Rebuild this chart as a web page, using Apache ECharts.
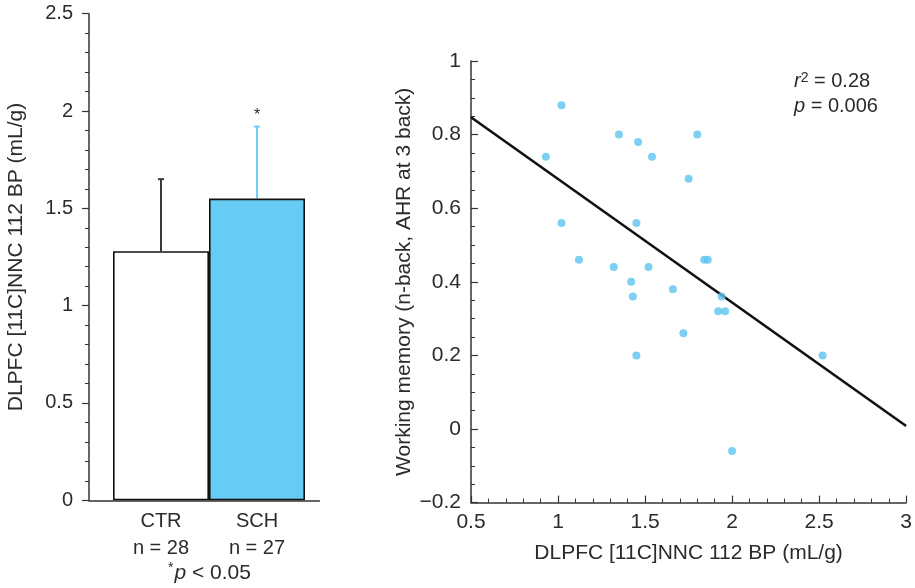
<!DOCTYPE html>
<html>
<head>
<meta charset="utf-8">
<script src="https://cdn.jsdelivr.net/npm/echarts@6/dist/echarts.min.js"></script>
<style>
html,body{margin:0;padding:0;background:#fff;}
#c{width:915px;height:588px;}
</style>
</head>
<body>
<div id="c"></div>
<script>
// ---- Data ----
const barCats = ['CTR', 'SCH'];
const barN = ['n = 28', 'n = 27'];
const barPos = [1, 2];
const barMeans = [1.28, 1.55];
const barErr = [0.37, 0.37];
const barSig = ['', '*'];
const barTicks = [0, 0.5, 1, 1.5, 2, 2.5];

const scatterX = [1.02, 0.93, 1.02, 1.12, 1.35, 1.46, 1.54, 1.45, 1.32, 1.52, 1.42, 1.43, 1.45, 1.80, 1.75, 1.84, 1.86, 1.66, 1.94, 1.92, 1.96, 1.72, 2.52, 2.00];
const scatterY = [0.88, 0.74, 0.56, 0.46, 0.80, 0.78, 0.74, 0.56, 0.44, 0.44, 0.40, 0.36, 0.20, 0.80, 0.68, 0.46, 0.46, 0.38, 0.36, 0.32, 0.32, 0.26, 0.20, -0.06];
const fitX = [0.5, 3];
const fitY = [0.847, 0.008];
const statR2 = '0.28';
const statP = '0.006';
const sigNote = '< 0.05';

// ---- Styles ----
const FONT = 'Liberation Sans, Arial, Helvetica, sans-serif';
const TXT = '#2b2b2b';
const AX = '#333';
const BLUE = '#66CCF4';
const DOT = '#5EC4F0';
const errColors = ['#3a3a3a', '#6DCFF6'];
const barFills = ['#ffffff', BLUE];

const chart = echarts.init(document.getElementById('c'), null, {renderer: 'canvas'});

const option = {
  animation: false,
  backgroundColor: '#fff',
  textStyle: {fontFamily: FONT, color: TXT},
  grid: [
    {left: 89, top: 13.7, width: 230.4, bottom: 87.7, containLabel: false},
    {left: 471, top: 61, right: 7, bottom: 85.4, containLabel: false}
  ],
  xAxis: [
    {
      gridIndex: 0, type: 'value', min: 0.25, max: 2.65,
      axisLine: {show: true, onZero: false, lineStyle: {color: AX, width: 1.5}},
      axisTick: {show: false},
      splitLine: {show: false},
      axisLabel: {
        customValues: barPos,
        margin: 8,
        fontSize: 20, color: TXT, fontFamily: FONT, lineHeight: 27,
        formatter: (v) => { const i = barPos.indexOf(v); return i < 0 ? '' : barCats[i] + '\n' + barN[i]; }
      }
    },
    {
      gridIndex: 1, type: 'value', min: 0.5, max: 3, interval: 0.5,
      axisLine: {show: true, onZero: false, lineStyle: {color: AX, width: 1.5}},
      axisTick: {show: true, inside: true, length: 7, lineStyle: {color: AX, width: 1.2}},
      minorTick: {show: true, splitNumber: 5, length: 4, lineStyle: {color: AX, width: 1}},
      splitLine: {show: false},
      axisLabel: {margin: 9, fontSize: 21, color: TXT, fontFamily: FONT,
        formatter: (v) => String(v)},
      name: 'DLPFC [11C]NNC 112 BP (mL/g)',
      nameLocation: 'middle', nameGap: 40,
      nameTextStyle: {fontSize: 21, color: TXT, fontFamily: FONT}
    }
  ],
  yAxis: [
    {
      gridIndex: 0, type: 'value', min: 0, max: 2.5, interval: 0.5,
      axisLine: {show: true, lineStyle: {color: AX, width: 1.5}},
      axisTick: {show: true, inside: false, length: 7, lineStyle: {color: AX, width: 1.2}},
      minorTick: {show: true, splitNumber: 5, length: 4, lineStyle: {color: AX, width: 1}},
      splitLine: {show: false},
      axisLabel: {margin: 16, fontSize: 20, color: TXT, fontFamily: FONT,
        formatter: (v) => barTicks.indexOf(v) >= 0 ? String(v) : ''},
      name: 'DLPFC [11C]NNC 112 BP (mL/g)',
      nameLocation: 'middle', nameGap: 62,
      nameTextStyle: {fontSize: 21, color: TXT, fontFamily: FONT}
    },
    {
      gridIndex: 1, type: 'value', min: -0.2, max: 1, interval: 0.2,
      axisLine: {show: true, onZero: false, lineStyle: {color: AX, width: 1.5}},
      axisTick: {show: true, inside: true, length: 7, lineStyle: {color: AX, width: 1.2}},
      minorTick: {show: true, splitNumber: 4, length: 4, lineStyle: {color: AX, width: 1}},
      splitLine: {show: false},
      axisLabel: {margin: 10, fontSize: 21, color: TXT, fontFamily: FONT,
        formatter: (v) => { const r = Math.round(v * 10) / 10; return r < 0 ? '\u2212' + String(-r) : String(r); }},
      name: 'Working memory (n-back, AHR at 3 back)',
      nameLocation: 'middle', nameGap: 56,
      nameTextStyle: {fontSize: 21, color: TXT, fontFamily: FONT}
    }
  ],
  series: [
    {
      type: 'bar', xAxisIndex: 0, yAxisIndex: 0,
      barWidth: 96,
      data: barPos.map((x, i) => ({
        value: [x, barMeans[i]],
        itemStyle: {color: barFills[i], borderColor: '#111', borderWidth: 1.6}
      })),
      z: 3
    },
    {
      type: 'custom', xAxisIndex: 0, yAxisIndex: 0,
      data: barPos.map((x, i) => [x, barMeans[i], barErr[i], i]),
      z: 2,
      renderItem: (params, api) => {
        const x = api.value(0), m = api.value(1), e = api.value(2), i = api.value(3);
        const p0 = api.coord([x, m]);
        const p1 = api.coord([x, m + e]);
        const col = errColors[i];
        const children = [
          {type: 'line', shape: {x1: p0[0], y1: p0[1], x2: p1[0], y2: p1[1]}, style: {stroke: col, lineWidth: 2}},
          {type: 'line', shape: {x1: p1[0] - 3, y1: p1[1], x2: p1[0] + 3, y2: p1[1]}, style: {stroke: col, lineWidth: 2}}
        ];
        if (barSig[i]) {
          children.push({type: 'text', x: p1[0], y: p1[1] - 3,
            style: {text: barSig[i], fontSize: 16, fill: TXT, fontFamily: FONT, align: 'center', verticalAlign: 'bottom'}});
        }
        return {type: 'group', children};
      }
    },
    {
      type: 'line', xAxisIndex: 1, yAxisIndex: 1,
      data: fitX.map((x, i) => [x, fitY[i]]),
      showSymbol: false, symbol: 'none',
      lineStyle: {color: '#111', width: 2.6},
      z: 2
    },
    {
      type: 'scatter', xAxisIndex: 1, yAxisIndex: 1,
      data: scatterX.map((x, i) => [x, scatterY[i]]),
      symbol: 'circle', symbolSize: 8,
      itemStyle: {color: DOT},
      z: 3
    }
  ],
  graphic: [
    {
      type: 'text', left: 168, top: 561,
      style: {
        text: '{s|*}{i|p} ' + sigNote,
        fontSize: 21, fill: TXT, fontFamily: FONT, lineHeight: 24,
        rich: {
          s: {fontSize: 14, fill: TXT, fontFamily: FONT, padding: [0, 1, 9, 0]},
          i: {fontSize: 21, fontStyle: 'italic', fill: TXT, fontFamily: FONT}
        }
      }
    },
    {
      type: 'text', left: 794, top: 69,
      style: {
        text: '{i|r}{s|2} = ' + statR2 + '\n{i|p} = ' + statP,
        fontSize: 20, fill: TXT, fontFamily: FONT, lineHeight: 25,
        rich: {
          i: {fontSize: 20, fontStyle: 'italic', fill: TXT, fontFamily: FONT},
          s: {fontSize: 14, fill: TXT, fontFamily: FONT, padding: [0, 0, 7, 0]}
        }
      }
    }
  ]
};
chart.setOption(option);
</script>
</body>
</html>
